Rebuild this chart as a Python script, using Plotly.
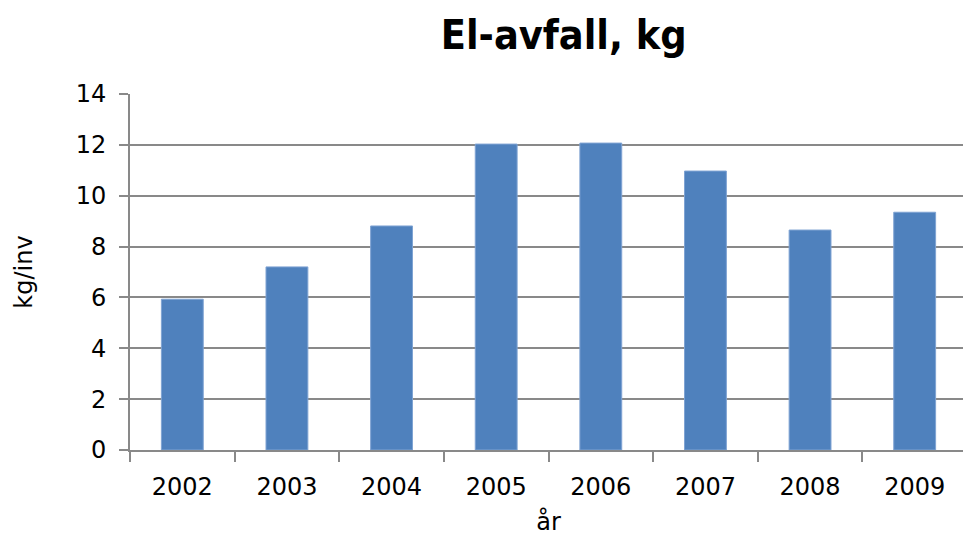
import plotly.graph_objects as go

years = ["2002", "2003", "2004", "2005", "2006", "2007", "2008", "2009"]
values = [5.93, 7.2, 8.81, 12.03, 12.07, 10.97, 8.65, 9.35]
y_ticks = [0, 2, 4, 6, 8, 10, 12, 14]

fig = go.Figure()
fig.add_trace(go.Bar(
    x=years, y=values,
    marker=dict(color="#4F81BD", line=dict(color="#7FA3D3", width=1)),
    width=0.4,
))

fig.update_layout(
    width=967, height=536,
    margin=dict(l=130, r=0, t=94, b=86, autoexpand=False),
    paper_bgcolor="white", plot_bgcolor="white",
    showlegend=False,
    title=dict(text="<b>El-avfall, kg</b>", x=0.583, xanchor="center", y=0.935, yanchor="middle",
               font=dict(family="DejaVu Sans Condensed", size=41, color="black")),
    font=dict(family="DejaVu Sans", color="black"),
    bargap=0.6,
)
fig.update_xaxes(
    type="category",
    showline=True, linecolor="#898989", linewidth=2,
    ticks="outside", ticklen=10, tickcolor="#898989", tickwidth=2,
    tickson="boundaries", ticklabelstandoff=14,
    tickfont=dict(size=24, family="DejaVu Sans"),
    title=dict(text="år", font=dict(size=24, family="DejaVu Sans"), standoff=17),
    showgrid=False, automargin=False,
)
fig.update_yaxes(
    range=[0, 14], tickvals=y_ticks,
    showline=True, linecolor="#898989", linewidth=2,
    ticks="outside", ticklen=9, tickcolor="#898989", tickwidth=2,
    ticklabelstandoff=8,
    showgrid=True, gridcolor="#898989", gridwidth=2,
    tickfont=dict(size=24, family="DejaVu Sans"),
    title=dict(text="kg/inv", font=dict(size=24, family="DejaVu Sans"), standoff=36),
    zeroline=False, automargin=False,
)

fig.write_html("out.html", config={"displayModeBar": False},
               post_script="document.body.style.margin='0';document.body.style.overflow='hidden';")
